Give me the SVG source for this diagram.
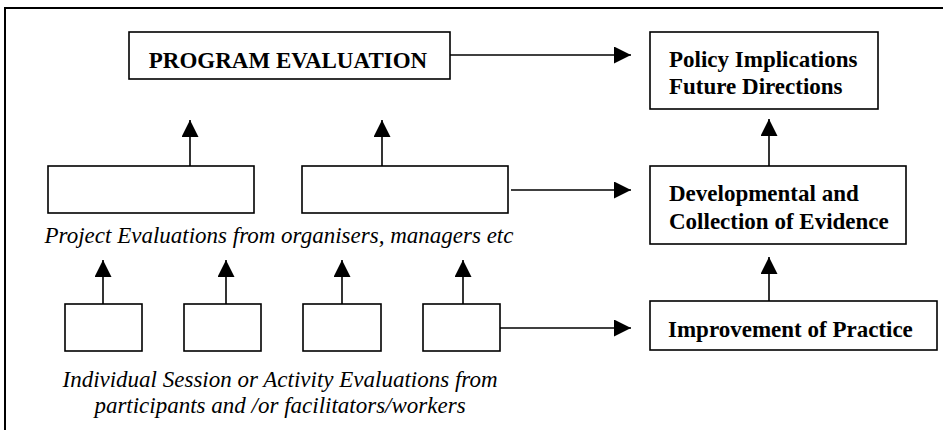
<svg xmlns="http://www.w3.org/2000/svg" width="943" height="430" viewBox="0 0 943 430">
<defs>
<marker id="ah" markerUnits="userSpaceOnUse" markerWidth="18" markerHeight="18" refX="17" refY="8.5" orient="auto">
<path d="M0,0 L17,8.5 L0,17 Z" fill="#000"/>
</marker>
<style>
.box{fill:#fff;stroke:#000;stroke-width:1.6}
.frame{fill:#fff;stroke:#000;stroke-width:2}
.b{font-family:"Liberation Serif","Times New Roman",serif;font-weight:bold;font-size:23px;fill:#000}
.i{font-family:"Liberation Serif","Times New Roman",serif;font-style:italic;font-size:23px;fill:#000;text-anchor:middle}
.c{fill:none;stroke:#000;stroke-width:1.6;marker-end:url(#ah)}
</style>
</defs>
<rect class="frame" x="5" y="8" width="950" height="440"/>
<g id="program-evaluation">
<rect class="box" x="129" y="32" width="321" height="47"/>
<text class="b" x="288" y="68" text-anchor="middle">PROGRAM EVALUATION</text>
</g>
<g id="policy">
<rect class="box" x="650" y="32" width="228" height="77"/>
<text class="b" x="669" y="67">Policy Implications</text>
<text class="b" x="669" y="94">Future Directions</text>
</g>
<g id="developmental">
<rect class="box" x="650" y="166" width="256" height="78"/>
<text class="b" x="669" y="201">Developmental and</text>
<text class="b" x="669" y="229">Collection of Evidence</text>
</g>
<g id="improvement">
<rect class="box" x="650" y="301" width="287" height="49"/>
<text class="b" x="668" y="337">Improvement of Practice</text>
</g>
<g id="project-1"><rect class="box" x="48" y="166" width="206" height="47"/></g>
<g id="project-2"><rect class="box" x="302" y="166" width="206" height="47"/></g>
<g id="project-label"><text class="i" x="279" y="243">Project Evaluations from organisers, managers etc</text></g>
<g id="session-1"><rect class="box" x="65" y="304" width="77" height="47"/></g>
<g id="session-2"><rect class="box" x="184" y="304" width="77" height="47"/></g>
<g id="session-3"><rect class="box" x="303" y="304" width="78" height="47"/></g>
<g id="session-4"><rect class="box" x="423" y="304" width="77" height="47"/></g>
<g id="session-label">
<text class="i" x="280" y="387">Individual Session or Activity Evaluations from</text>
<text class="i" x="280" y="413">participants and /or facilitators/workers</text>
</g>
<g id="connectors">
<path class="c" d="M450,55 H631"/>
<path class="c" d="M769,166 V119"/>
<path class="c" d="M511,190 H631"/>
<path class="c" d="M500,328 H631"/>
<path class="c" d="M769,301 V257"/>
<path class="c" d="M190,166 V120"/>
<path class="c" d="M382,166 V120"/>
<path class="c" d="M103,304 V260"/>
<path class="c" d="M226,304 V260"/>
<path class="c" d="M342,304 V260"/>
<path class="c" d="M463,304 V260"/>
</g>
</svg>
